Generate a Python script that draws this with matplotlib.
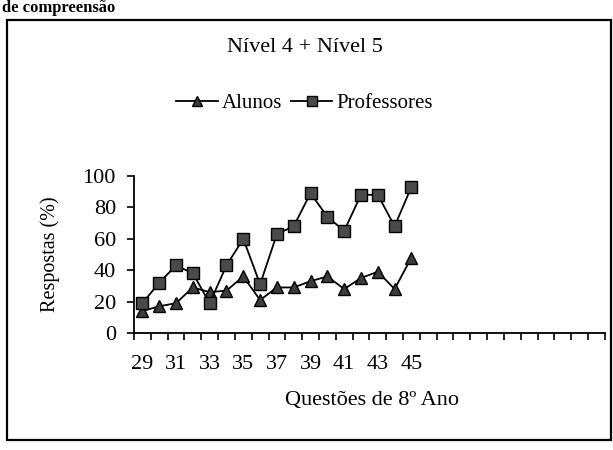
import matplotlib
matplotlib.use("Agg")
import matplotlib.pyplot as plt
from matplotlib.patches import Rectangle
import numpy as np

plt.rcParams['font.family'] = ['Liberation Serif', 'DejaVu Serif']

# Dados
questoes = [29, 30, 31, 32, 33, 34, 35, 36, 37, 38, 39, 40, 41, 42, 43, 44, 45]
alunos = [14, 17, 19, 29, 26, 27, 36, 21, 29, 29, 33, 36, 28, 35, 39, 28, 48]
professores = [19, 32, 43, 38, 19, 43, 60, 31, 63, 68, 89, 74, 65, 88, 88, 68, 93]
rotulos_x = ['29', '31', '33', '35', '37', '39', '41', '43', '45']
n_categorias = 28

fig = plt.figure(figsize=(6.13, 4.5), dpi=100)
ax = fig.add_axes([0.2186, 0.26, 0.768, 0.349])

ax.plot(questoes, alunos, color='black', lw=1.3, marker='^', markersize=9,
        markerfacecolor='#3c3c3c', markeredgecolor='black', label='Alunos')
ax.plot(questoes, professores, color='black', lw=1.3, marker='s', markersize=9,
        markerfacecolor='#4a4a4a', markeredgecolor='black', label='Professores')

# eixo de categorias
x0 = questoes[0] - 0.5
ax.set_xlim(x0, x0 + n_categorias)
ax.set_ylim(0, 100)
ax.set_xticks([int(r) for r in rotulos_x])
ax.set_xticklabels(rotulos_x)
ax.set_xticks(np.arange(x0, x0 + n_categorias + 1, 1), minor=True)
ax.tick_params(axis='x', which='major', length=0, pad=16, labelsize=16)
ax.tick_params(axis='x', which='minor', length=5, width=1.2, direction='out')
ax.set_yticks([0, 20, 40, 60, 80, 100])
ax.tick_params(axis='y', length=5, width=1.2, pad=8, labelsize=16)

for s in ['top', 'right']:
    ax.spines[s].set_visible(False)
for s in ['left', 'bottom']:
    ax.spines[s].set_linewidth(1.3)

ax.set_ylabel('Respostas (%)', fontsize=14.5, labelpad=16)
fig.text(0.607, 0.11, 'Questões de 8º Ano', ha='center', va='center', fontsize=16)
fig.text(0.497, 0.895, 'Nível 4 + Nível 5', ha='center', va='center', fontsize=16)

fig.legend(loc='center', bbox_to_anchor=(0.497, 0.77), ncol=2, frameon=False,
           fontsize=15, handlelength=2.0, handletextpad=0.2, columnspacing=0.4,
           borderpad=0, markerscale=0.85)

# moldura do gráfico e texto do topo
fig.add_artist(Rectangle((0.012, 0.022), 0.985, 0.934, transform=fig.transFigure,
                         fill=False, edgecolor='black', lw=1.6))
fig.text(0.003, 0.999, 'de compreensão', ha='left', va='top', fontsize=12,
         fontweight='bold')

fig.savefig('out.png', dpi=100)
